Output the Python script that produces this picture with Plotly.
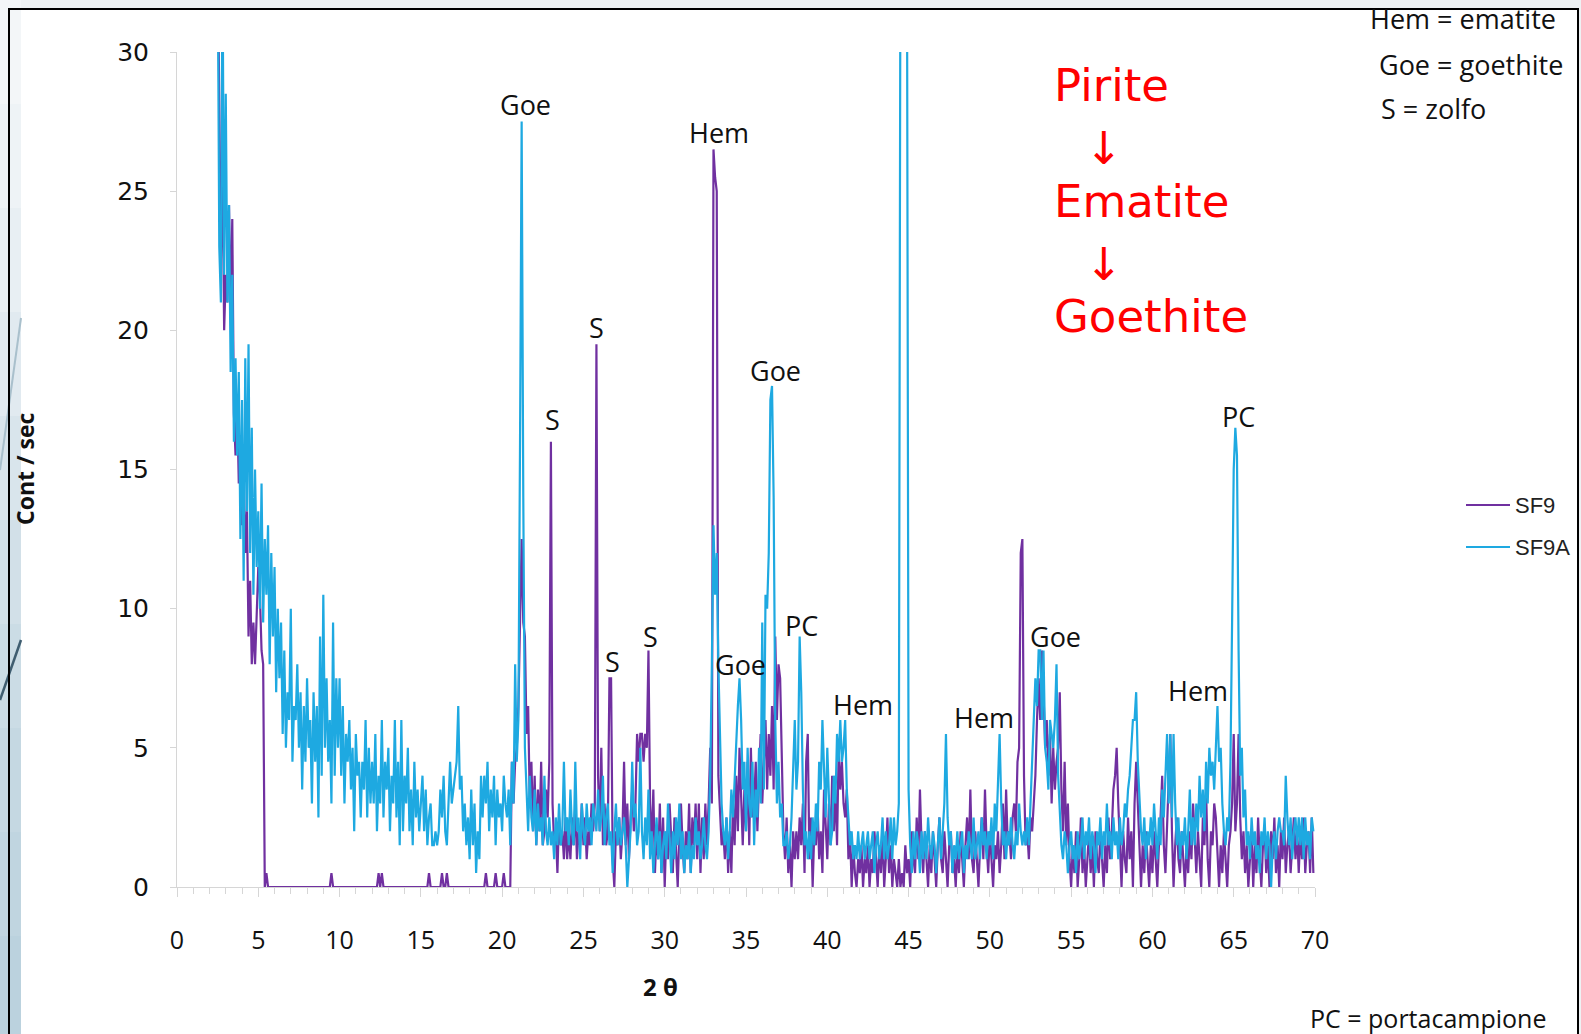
import plotly.graph_objects as go

# ---------------- data (2-theta grid: 2.5 .. 69.9, step 0.1) ----------------
theta_start = 2.5
theta_step = 0.1

sf9a = [
    34, 23, 21, 33, 22,                                   # 2.5-2.9
    28.5, 21, 24.5, 18.5, 22, 16, 19, 15.5, 18.5, 12.5,   # 3
    17.5, 11, 19, 13.5, 19.5, 12, 16.5, 10.5, 15, 11.5,   # 4
    13.5, 10, 14.5, 9.5, 12.5, 10.5, 13, 8, 12, 9,        # 5
    11.5, 7, 10, 7.5, 9.5, 5.5, 8.5, 5, 7, 6,             # 6
    10, 4.5, 6.5, 6, 8, 5, 7, 3.5, 6.5, 4.5,              # 7
    7.5, 5, 6, 3, 7, 4.5, 6.5, 2.5, 9, 4,                 # 8
    10.5, 5, 7.5, 4.5, 6, 3, 9.5, 4, 7.5, 5,              # 9
    7.5, 4, 6.5, 3, 5.5, 4.5, 6, 3.5, 5, 2,               # 10
    5.5, 4, 4.5, 2.5, 4.5, 3.5, 6, 2.5, 5, 3,             # 11
    4.5, 3, 5.5, 2, 4, 3, 6, 2.5, 4.5, 3.5,               # 12
    5, 2, 4, 3, 6, 2.5, 4.5, 1.5, 6, 2,                   # 13
    4, 3, 5, 2, 3.5, 1.5, 4.5, 2.5, 3.5, 2,               # 14
    3, 4, 2, 3.5, 1.5, 2.5, 3, 1.5, 1.5, 2,               # 15
    1.5, 2, 3.5, 2.5, 4, 2, 1.5, 3, 4.5, 3,               # 16
    3.5, 4, 4.5, 6.5, 3.5, 4, 2, 3, 1.5, 2.5,             # 17
    1, 3.5, 1.5, 3, 0.5, 2, 1, 4, 2.5, 4,                 # 18
    3, 4.5, 2, 3.5, 2.5, 4, 1.5, 3.5, 2.5, 3,             # 19
    2, 4, 3, 2.5, 3.5, 1.5, 4.5, 3, 8, 4.5,               # 20
    6, 16, 27.5, 14, 5, 3.5, 2, 4, 2.5, 2,                # 21
    3.5, 1.5, 3, 2, 2.5, 1.5, 4, 2, 1.5, 2.5,             # 22
    1.5, 2, 1, 2.5, 1.5, 3, 1.5, 2, 4.5, 2,               # 23
    2.5, 1.5, 3.5, 2, 1.5, 4.5, 2, 2.5, 1, 3,             # 24
    2, 1.5, 3, 2, 2.5, 1.5, 3, 2.5, 2, 3.5,               # 25
    2, 2.5, 4, 1.5, 2.5, 3, 1.5, 2, 0.5, 2,               # 26
    3, 1.5, 2.5, 1.5, 2, 2.5, 1.5, 0, 1, 2,               # 27
    4.5, 2.5, 3, 1.5, 2, 5, 2, 1, 2.5, 1.5,               # 28
    3.5, 1, 2, 0.5, 1.5, 2.5, 1, 2, 0.5, 1.5,             # 29
    2, 1, 3, 1.5, 0.5, 2, 1, 2.5, 1.5, 3,                 # 30
    1, 2, 0.5, 1.5, 1, 2, 0.5, 1.5, 1, 2.5,               # 31
    1.5, 2, 1, 1.5, 2.5, 1.5, 1, 2, 4, 8,                 # 32
    13, 10.5, 12, 8, 5.5, 3, 2, 1.5, 2.5, 1,              # 33
    2, 3.5, 2.5, 4, 5, 6.5, 7.5, 6, 3.5, 4.5,             # 34
    2, 5, 3, 2.5, 4.5, 1.5, 3.5, 2.5, 5, 3,               # 35
    9.5, 3.5, 10.5, 10, 12, 17.5, 18, 14, 6, 3,           # 36
    4.5, 2.5, 3, 1.5, 1.5, 2, 1, 1.5, 2.5, 4,             # 37
    6, 3.5, 4.5, 9, 7, 3.5, 1.5, 2, 1, 2,                 # 38
    1, 2.5, 1.5, 3, 2, 4.5, 3.5, 6, 4, 2.5,               # 39
    5, 3, 1.5, 2, 4, 3, 5.5, 4.5, 6, 4.5,                 # 40
    5, 6, 3.5, 2.5, 1.5, 2, 1, 1.5, 1, 2,                 # 41
    1, 1.5, 2, 1, 1.5, 2, 1, 1.5, 2, 0.5,                 # 42
    1.5, 2, 1, 1.5, 2.5, 1, 2, 1, 1.5, 2.5,               # 43
    1, 2.5, 1.5, 2, 3, 34, 45, 45, 45, 34,                # 44
    3.5, 1.5, 0.5, 2, 1, 2, 1.5, 0.5, 2, 1,               # 45
    2, 1, 2.5, 1.5, 1, 2, 1.5, 0.5, 1.5, 2.5,             # 46
    1, 2, 3, 5.5, 2.5, 1.5, 2, 0.5, 1.5, 1,               # 47
    2, 1, 1.5, 2, 0.5, 1.5, 1, 2, 1.5, 1,                 # 48
    2.5, 1, 1.5, 2, 1, 2.5, 1.5, 2, 1, 2,                 # 49
    1.5, 2.5, 1, 3, 2, 4, 5.5, 3, 1.5, 2,                 # 50
    1, 2, 1.5, 2.5, 1.5, 1, 2, 1.5, 3, 2,                 # 51
    1.5, 2, 1.5, 2.5, 1.5, 3, 4.5, 6, 7.5, 6.5,           # 52
    8.5, 8.5, 6, 8.5, 5, 4.5, 3.5, 6, 5.5, 5,             # 53
    6, 8, 4, 2.5, 1.5, 1, 2, 1.5, 0.5, 1.5,               # 54
    2, 1, 1.5, 0.5, 2, 1, 1.5, 2.5, 1, 2,                 # 55
    1.5, 2.5, 1, 2, 1.5, 0.5, 2, 1.5, 2.5, 1,             # 56
    2, 1.5, 3, 1.5, 2, 1, 2.5, 1.5, 2, 1,                 # 57
    2.5, 1.5, 2, 3, 2.5, 3.5, 4, 5, 6, 6,                 # 58
    7, 4.5, 3, 2, 1.5, 2.5, 1, 2, 1.5, 2.5,               # 59
    1.5, 3, 2, 1, 2.5, 1.5, 3.5, 2.5, 4, 5.5,             # 60
    3, 5.5, 2.5, 5.5, 3, 1.5, 2.5, 1, 2, 1.5,             # 61
    2.5, 1, 2, 3.5, 1.5, 2.5, 1.5, 3, 2, 4,               # 62
    2.5, 3.5, 2, 4.5, 3, 5, 4, 4.5, 3.5, 5,               # 63
    6.5, 4.5, 5, 3, 2, 1.5, 2.5, 2, 4.5, 9.5,             # 64
    15, 16.5, 15.5, 8.5, 4, 5, 2.5, 3.5, 1.5, 2,          # 65
    1, 2.5, 1.5, 2, 1, 1.5, 0.5, 2, 1.5, 2.5,             # 66
    1, 2, 1.5, 0, 1.5, 2, 1, 2, 2.5, 2,                   # 67
    2, 1.5, 4, 2.5, 1.5, 2.5, 1, 2, 2.5, 1.5,             # 68
    2.5, 1.5, 2.5, 1, 2.5, 1.5, 2, 1, 2.5, 2,             # 69
]

sf9 = [
    34, 27.5, 22.5, 26, 20,                               # 2.5-2.9
    22, 21, 24.5, 20.5, 24, 17, 15.5, 17.5, 14.5, 16,     # 3
    13, 15, 12, 13.5, 9, 11, 8, 9.5, 8, 10,               # 4
    11.5, 10.5, 8.5, 8, 0, 0.5, 0, 0, 0, 0,               # 5
    0, 0, 0, 0, 0, 0, 0, 0, 0, 0,                         # 6
    0, 0, 0, 0, 0, 0, 0, 0, 0, 0,                         # 7
    0, 0, 0, 0, 0, 0, 0, 0, 0, 0,                         # 8
    0, 0, 0, 0, 0, 0.5, 0, 0, 0, 0,                       # 9
    0, 0, 0, 0, 0, 0, 0, 0, 0, 0,                         # 10
    0, 0, 0, 0, 0, 0, 0, 0, 0, 0,                         # 11
    0, 0, 0, 0, 0.5, 0, 0.5, 0, 0, 0,                     # 12
    0, 0, 0, 0, 0, 0, 0, 0, 0, 0,                         # 13
    0, 0, 0, 0, 0, 0, 0, 0, 0, 0,                         # 14
    0, 0, 0, 0, 0, 0.5, 0, 0, 0, 0,                       # 15
    0, 0, 0, 0.5, 0, 0, 0.5, 0, 0, 0,                     # 16
    0, 0, 0, 0, 0, 0, 0, 0, 0, 0,                         # 17
    0, 0, 0, 0, 0, 0, 0, 0, 0, 0,                         # 18
    0.5, 0, 0, 0, 0, 0, 0.5, 0, 0, 0,                     # 19
    0, 0.5, 0, 0, 0, 0, 4.5, 3, 4.5, 5,                   # 20
    6.5, 10, 12.5, 9.5, 9, 5.5, 6.5, 3, 4.5, 2,           # 21
    4, 1.5, 3.5, 2, 4.5, 1.5, 2, 3.5, 2.5, 4.5,           # 22
    16, 3, 1.5, 2, 0.5, 2.5, 1.5, 2, 1, 2.5,              # 23
    1, 2, 1, 2.5, 1.5, 3, 1, 2, 1.5, 3,                   # 24
    1.5, 2.5, 1, 2, 1.5, 3, 2, 3, 19.5, 4,                # 25
    2, 5, 1.5, 3, 1.5, 2, 7.5, 7.5, 1, 0,                 # 26
    2, 1.5, 2.5, 1, 2, 4.5, 1.5, 3, 1, 2.5,               # 27
    3.5, 2, 3, 5.5, 4.5, 5.5, 5.5, 4.5, 5.5, 5,           # 28
    8.5, 3, 1.5, 3.5, 0.5, 2, 1, 3, 0.5, 2.5,             # 29
    0, 2, 1, 3, 1.5, 0.5, 2.5, 1, 0, 2,                   # 30
    3, 1.5, 0.5, 2, 1, 3, 0.5, 2.5, 1.5, 3,               # 31
    1, 3, 0.5, 2.5, 1, 3, 1.5, 3, 5, 3,                   # 32
    26.5, 25.5, 25, 4, 2.5, 1.5, 2, 1, 2.5, 0.5,          # 33
    2, 0.5, 3, 1.5, 4, 2, 5, 3, 1.5, 3.5,                 # 34
    2, 4.5, 1.5, 5, 2.5, 3, 4.5, 2, 3.5, 5.5,             # 35
    3, 4.5, 6, 3.5, 5.5, 4, 6.5, 3.5, 9, 6,               # 36
    8, 7.5, 5, 2, 1, 2.5, 0.5, 1.5, 0, 2,                 # 37
    1, 2, 1, 2.5, 1.5, 3, 0.5, 4.5, 5.5, 1,               # 38
    2.5, 0, 2, 1.5, 3, 1, 2, 0.5, 3.5, 2,                 # 39
    1, 3, 1.5, 4, 2, 3.5, 1.5, 5, 3.5, 4.5,               # 40
    3, 2.5, 3.5, 1, 2, 0, 1.5, 0.5, 0, 1,                 # 41
    0.5, 1.5, 0, 1, 0.5, 1.5, 0, 1, 0.5, 2,               # 42
    1, 0, 1.5, 0.5, 2, 0, 1, 2.5, 0.5, 1.5,               # 43
    0, 1, 0.5, 0, 1, 0, 0.5, 0, 1.5, 0.5,                 # 44
    1, 0, 2, 1, 0.5, 2.5, 1, 3.5, 1.5, 0.5,               # 45
    2, 1, 0, 1.5, 0.5, 2, 1, 0, 1.5, 2.5,                 # 46
    1, 0.5, 2, 1, 0, 1.5, 2, 0.5, 1, 0,                   # 47
    1.5, 0.5, 2, 1, 0, 1.5, 2.5, 1, 3.5, 1,               # 48
    0.5, 2, 1, 0, 1.5, 2.5, 1, 3.5, 1.5, 0.5,             # 49
    2, 1, 0, 1.5, 1, 2, 0.5, 1.5, 3, 1,                   # 50
    3.5, 1.5, 2, 1, 2.5, 3, 2, 4.5, 5, 12,                # 51
    12.5, 4, 1.5, 2, 1, 2.5, 2, 3, 4, 6,                  # 52
    7.5, 6, 8.5, 7, 5, 6, 4, 5.5, 3, 5,                   # 53
    3.5, 4.5, 5, 7, 3.5, 2, 4.5, 1.5, 3, 1,               # 54
    0, 1.5, 0.5, 2, 0, 1, 2.5, 0.5, 1.5, 0,               # 55
    1, 2, 0.5, 1.5, 0, 2, 1, 0.5, 2, 1,                   # 56
    0, 1.5, 0.5, 2.5, 1, 2, 3.5, 4, 5, 3,                 # 57
    1.5, 0, 2, 1, 0.5, 2.5, 1, 2, 0, 3,                   # 58
    4.5, 3, 1, 0, 1.5, 0.5, 2, 1, 0, 1.5,                 # 59
    0.5, 2, 1, 0, 1.5, 2.5, 4, 1.5, 0.5, 2,               # 60
    3.5, 5.5, 2, 0, 1.5, 2.5, 1, 0.5, 2, 1,               # 61
    0, 1.5, 0.5, 2, 1, 3, 1.5, 0.5, 2, 1,                 # 62
    0, 2.5, 1.5, 3.5, 1, 0, 2, 1.5, 3, 2.5,               # 63
    1, 0, 1.5, 0.5, 2, 1, 0, 1.5, 2, 3,                   # 64
    5.5, 2, 3, 5.5, 2.5, 1, 2, 0.5, 1.5, 0,               # 65
    1, 2, 0, 1.5, 0.5, 2.5, 1, 0, 1.5, 2,                 # 66
    0.5, 1.5, 0, 2, 1, 2.5, 0.5, 1.5, 0, 2,               # 67
    1, 2.5, 0.5, 1.5, 2, 0.5, 1.5, 2.5, 1, 2,             # 68
    0.5, 2, 1, 2.5, 0.5, 1.5, 2, 0.5, 2.5, 0.5,           # 69
]

if len(sf9) != len(sf9a):
    raise ValueError(f"length mismatch sf9={len(sf9)} sf9a={len(sf9a)}")

theta = [round(theta_start + theta_step * i, 1) for i in range(len(sf9a))]

x_ticks = list(range(0, 71, 5))
y_ticks = list(range(0, 31, 5))

# peak labels: (text, 2theta, counts)
peak_labels = [
    ("Goe", 21.45, 28.1), ("S", 23.1, 16.8), ("S", 25.8, 20.1), ("S", 26.8, 8.1),
    ("S", 29.1, 9.0), ("Hem", 33.35, 27.1), ("Goe", 36.8, 18.55), ("Goe", 34.65, 8.0),
    ("PC", 38.4, 9.4), ("Hem", 42.2, 6.55), ("PC", 44.6, 30.6), ("Hem", 49.65, 6.1),
    ("Goe", 54.05, 9.0), ("Hem", 62.8, 7.05), ("PC", 65.3, 16.9),
]

# ---------------- figure ----------------
W_FIG, H_FIG = 1581, 1034
L, R, T, B = 177, 1315, 52, 887
PW, PH = R - L, B - T


def px(xp):
    return (xp - L) / PW


def py(yp):
    return (B - yp) / PH


PURPLE = "#7030A0"
CYAN = "#1EA9E1"

fig = go.Figure()
fig.add_trace(go.Scatter(x=theta, y=sf9, mode="lines", name="SF9",
                         line=dict(color=PURPLE, width=2.2), showlegend=False))
fig.add_trace(go.Scatter(x=theta, y=sf9a, mode="lines", name="SF9A",
                         line=dict(color=CYAN, width=2.2), showlegend=False))

shapes = []
# white slide card
shapes.append(dict(type="rect", xref="paper", yref="paper", x0=px(9), x1=px(1578),
                   y0=py(1040), y1=py(9), fillcolor="white", line=dict(width=0), layer="below"))
# left gradient strip
band_cols = ["#f3f6f8", "#eef3f6", "#e8eff3", "#e1eaf0", "#d9e5ec", "#d2e0e8",
             "#cbdce5", "#c5d8e2", "#c0d5e0", "#bbd2de"]
n = len(band_cols)
for i, c in enumerate(band_cols):
    y0p = 0 + i * 1040 / n
    y1p = 0 + (i + 1) * 1040 / n
    shapes.append(dict(type="rect", xref="paper", yref="paper", x0=px(0), x1=px(21),
                       y0=py(y1p), y1=py(y0p), fillcolor=c, line=dict(width=0), layer="below"))
# decorative diagonals
shapes.append(dict(type="line", xref="paper", yref="paper", x0=px(0), y0=py(470),
                   x1=px(21), y1=py(318), line=dict(color="#a9c0cc", width=2), layer="below"))
shapes.append(dict(type="line", xref="paper", yref="paper", x0=px(0), y0=py(700),
                   x1=px(21), y1=py(640), line=dict(color="#3f5d70", width=2.5), layer="below"))
# frame
shapes.append(dict(type="rect", xref="paper", yref="paper", x0=px(9), x1=px(1578),
                   y0=py(1045), y1=py(9), line=dict(color="black", width=2),
                   fillcolor="rgba(0,0,0,0)", layer="above"))
# legend samples
shapes.append(dict(type="line", xref="paper", yref="paper", x0=px(1466), x1=px(1510),
                   y0=py(505), y1=py(505), line=dict(color=PURPLE, width=2.2)))
shapes.append(dict(type="line", xref="paper", yref="paper", x0=px(1466), x1=px(1510),
                   y0=py(547), y1=py(547), line=dict(color=CYAN, width=2.2)))

ann = []
for txt, xv, yv in peak_labels:
    ann.append(dict(x=xv, y=yv, xref="x", yref="y", text=txt, showarrow=False,
                    xanchor="center", yanchor="middle",
                    font=dict(family="Open Sans", size=27, color="#111")))

# legend labels
ann.append(dict(x=px(1513), y=py(505), xref="paper", yref="paper", text="SF9", showarrow=False,
                xanchor="left", yanchor="middle",
                font=dict(family="Liberation Sans", size=22, color="#222")))
ann.append(dict(x=px(1513), y=py(547), xref="paper", yref="paper", text="SF9A", showarrow=False,
                xanchor="left", yanchor="middle",
                font=dict(family="Liberation Sans", size=22, color="#222")))

# key texts
key_font = dict(family="Open Sans", size=27, color="#111")
ann.append(dict(x=px(1368), y=py(18), xref="paper", yref="paper", text="Hem = ematite",
                showarrow=False, xanchor="left", yanchor="middle", font=key_font))
ann.append(dict(x=px(1377), y=py(64), xref="paper", yref="paper", text="Goe = goethite",
                showarrow=False, xanchor="left", yanchor="middle", font=key_font))
ann.append(dict(x=px(1379), y=py(108), xref="paper", yref="paper", text="S = zolfo",
                showarrow=False, xanchor="left", yanchor="middle", font=key_font))
ann.append(dict(x=px(1308), y=py(1018), xref="paper", yref="paper", text="PC = portacampione",
                showarrow=False, xanchor="left", yanchor="middle",
                font=dict(family="Open Sans", size=25, color="#111")))

# red sequence
red_font = dict(family="DejaVu Sans", size=45, color="#ff0000")
ann.append(dict(x=px(1052), y=py(86), xref="paper", yref="paper", text="Pirite",
                showarrow=False, xanchor="left", yanchor="middle", font=red_font))
ann.append(dict(x=px(1104), y=py(149), xref="paper", yref="paper", text="↓",
                showarrow=False, xanchor="center", yanchor="middle", font=red_font))
ann.append(dict(x=px(1052), y=py(202), xref="paper", yref="paper", text="Ematite",
                showarrow=False, xanchor="left", yanchor="middle", font=red_font))
ann.append(dict(x=px(1104), y=py(264), xref="paper", yref="paper", text="↓",
                showarrow=False, xanchor="center", yanchor="middle", font=red_font))
ann.append(dict(x=px(1052), y=py(316), xref="paper", yref="paper", text="Goethite",
                showarrow=False, xanchor="left", yanchor="middle", font=red_font))

# axis titles
ann.append(dict(x=px(25), y=py(469), xref="paper", yref="paper", text="<b>Cont / sec</b>",
                showarrow=False, textangle=-90, xanchor="center", yanchor="middle",
                font=dict(family="Open Sans", size=23, color="#111")))
ann.append(dict(x=px(660), y=py(986), xref="paper", yref="paper", text="<b>2 θ</b>",
                showarrow=False, xanchor="center", yanchor="middle",
                font=dict(family="Open Sans", size=24, color="#111")))

axis_grey = "#d6d6d6"
fig.update_layout(
    width=W_FIG, height=H_FIG,
    margin=dict(l=L, r=W_FIG - R, t=T, b=H_FIG - B, autoexpand=False),
    paper_bgcolor="#eef2f4",
    plot_bgcolor="rgba(0,0,0,0)",
    showlegend=False,
    shapes=shapes,
    annotations=ann,
    xaxis=dict(range=[0, 70], tickvals=x_ticks, showgrid=False, zeroline=False,
               showline=True, linecolor=axis_grey, linewidth=1,
               ticks="outside", ticklen=9, tickcolor=axis_grey, tickwidth=1,
               minor=dict(dtick=1, ticks="outside", ticklen=6, tickcolor=axis_grey, tickwidth=1),
               ticklabelstandoff=22,
               tickfont=dict(family="Open Sans", size=25, color="#111")),
    yaxis=dict(range=[0, 30], tickvals=y_ticks, showgrid=False, zeroline=False,
               showline=True, linecolor=axis_grey, linewidth=1,
               ticks="outside", ticklen=6, tickcolor=axis_grey, tickwidth=1,
               ticklabelstandoff=16,
               tickfont=dict(family="DejaVu Sans", size=25, color="#111")),
)

fig.write_html("out.html")
